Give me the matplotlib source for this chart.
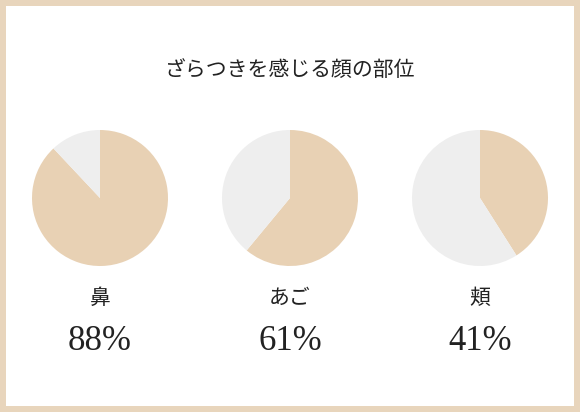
import matplotlib.pyplot as plt

parts = ['鼻', 'あご', '頬']
values = [88, 61, 41]
title = 'ざらつきを感じる顔の部位'

beige = '#e8d1b4'
grey = '#eeeeee'
W, H = 580, 412
b = 6  # frame width in px

fig = plt.figure(figsize=(W / 100, H / 100), dpi=100)
fig.patch.set_facecolor('#e8d5bc')
bg = fig.add_axes([b / W, b / H, 1 - 2 * b / W, 1 - 2 * b / H], zorder=-1)
bg.set_facecolor('white')
bg.set_xticks([])
bg.set_yticks([])
for s in bg.spines.values():
    s.set_visible(False)

fig.text(290 / W, 1 - 70 / H, title, ha='center', va='center', fontsize=15,
         family=['Noto Sans CJK JP', 'DejaVu Sans'], color='#222222')

centers = [100, 290, 480]
r = 68
for cx, name, v in zip(centers, parts, values):
    ax = fig.add_axes([(cx - r) / W, 1 - (198 + r) / H, 2 * r / W, 2 * r / H])
    ax.pie([v, 100 - v], colors=[beige, grey], startangle=90, counterclock=False,
           wedgeprops=dict(linewidth=0), radius=1)
    ax.set_xlim(-1, 1)
    ax.set_ylim(-1, 1)
    ax.set_aspect('equal')
    fig.text(cx / W, 1 - 298 / H, name, ha='center', va='center', fontsize=15,
             family=['Noto Sans CJK JP'], color='#222222')
    fig.text(cx / W, 1 - 342 / H, f'{v}%', ha='center', va='center', fontsize=25,
             family=['Liberation Serif', 'DejaVu Serif'], color='#222222')

fig.savefig('out.png', dpi=100, facecolor=fig.get_facecolor())
